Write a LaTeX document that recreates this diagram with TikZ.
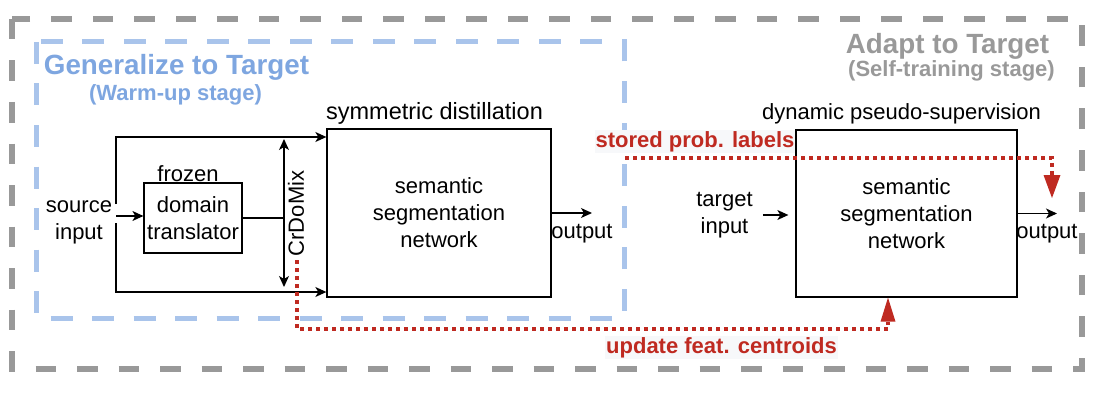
\documentclass[tikz,border=0pt]{standalone}
\usepackage{fontspec}
\setmainfont{Liberation Sans}
\usetikzlibrary{arrows.meta}
\definecolor{gline}{HTML}{999999}
\definecolor{bline}{HTML}{A9C4EB}
\definecolor{btext}{HTML}{7EA6E0}
\definecolor{rline}{RGB}{191,42,33}
\definecolor{lbg}{HTML}{F7F8FA}
\begin{document}
\begin{tikzpicture}[x=1pt,y=-1pt,
  txt/.style={inner sep=0pt, font=\fontsize{22}{27}\selectfont, align=center},
  blk/.style={draw=black, line width=1.3pt, inner sep=0pt, font=\fontsize{22}{27}\selectfont, align=center},
  titlefont/.style={inner sep=0pt, font=\bfseries\fontsize{27.8}{32}\selectfont},
  subfont/.style={inner sep=0pt, font=\bfseries\fontsize{22}{26}\selectfont},
  ln/.style={line width=1.3pt},
  arr/.style={line width=1.3pt, -{Stealth[length=11pt,width=10pt,inset=3pt]}},
  darr/.style={line width=1.3pt, {Stealth[length=11pt,width=10pt,inset=3pt]}-{Stealth[length=11pt,width=10pt,inset=3pt]}},
  gdash/.style={draw=gline, line width=6pt, dash pattern=on 20.5pt off 21pt},
  bdash/.style={draw=bline, line width=5pt, dash pattern=on 22pt off 19.5pt},
  rdot/.style={draw=rline, line width=4pt, dash pattern=on 4pt off 4pt},
  rlab/.style={inner xsep=1pt, inner ysep=1pt, fill=lbg, text=rline, font=\bfseries\fontsize{22}{27}\selectfont}
]
\useasboundingbox (0,0) rectangle (1112,412);
\draw[gdash] (12,19) rectangle (1082,369);
\draw[bdash] (36,42) rectangle (624,318);

\node[titlefont, text=btext, anchor=base] (gt) at (176.5,75) {Generalize to Target};
\node[subfont, text=btext, anchor=base] (gs) at (175.5,100) {(Warm-up stage)};
\node[titlefont, text=gline, anchor=base] (at) at (947.5,54) {Adapt to Target};
\node[subfont, text=gline, anchor=base] (as) at (951.5,77) {(Self-training stage)};

\node[blk, minimum width=224pt, minimum height=168pt] (b1) at (439,213) {semantic\\segmentation\\network};
\node[blk, minimum width=221pt, minimum height=167pt] (b2) at (906.5,213.5) {semantic\\segmentation\\network};
\node[blk, line width=1.2pt, minimum width=98pt, minimum height=70pt] (tr) at (193,218) {domain\\translator};
\node[txt, anchor=base] (fz) at (188,181) {frozen};
\node[txt] (src) at (79,222) {source\\input};
\node[txt, anchor=base, font=\fontsize{23.5}{28}\selectfont] (sd) at (434.5,119) {symmetric distillation};
\node[txt, anchor=base] (dp) at (901.5,119) {dynamic pseudo-supervision};
\node[txt, anchor=base] (o1) at (582,238) {output};
\node[txt, anchor=base] (o2) at (1047,238) {output};
\node[txt] (ti) at (724.5,215) {target\\input};
\node[txt, rotate=90] (cdm) at (296,213.5) {CrDoMix};

\coordinate (sj) at (116,216);
\coordinate (sjt) at (116,204);
\coordinate (sjb) at (116,223);
\coordinate (st) at (116,137);
\coordinate (sb) at (116,292);
\draw[arr] (sjt) -- (st) -- (st -| b1.west);
\draw[arr] (sjb) -- (sb) -- (sb -| b1.west);
\draw[arr] (sj) -- (sj -| tr.west);
\coordinate (cxt) at (284,139);
\coordinate (cxb) at (284,287);
\draw[ln] (tr.east) -- (tr.east -| cxt);
\draw[darr] (cxt) -- (cxb);
\coordinate (o1e) at (592,213);
\draw[arr] (b1.east) -- (o1e);
\coordinate (o2e) at (1057,213.5);
\draw[arr] (b2.east) -- (o2e);
\draw[arr, shorten <=10pt, shorten >=7pt] (ti.east) -- (ti.east -| b2.west);

\coordinate (r0) at (625,158);
\coordinate (r1) at (1052,158);
\coordinate (r2) at (1052,198);
\draw[rdot, -{Triangle[length=23pt,width=17pt,line width=0pt]}] (r0) -- (r1) -- (r2);
\coordinate (q0) at (297,260);
\coordinate (q1) at (888,329);
\draw[rdot, -{Triangle[length=24pt,width=15pt,line width=0pt]}] (q0) |- (q1) -- (q1 |- b2.south);

\node[rlab, anchor=base] (spl) at (695,147) {stored prob. labels};
\node[rlab, anchor=base] (ufc) at (721.5,353) {update feat. centroids};
\end{tikzpicture}
\end{document}
